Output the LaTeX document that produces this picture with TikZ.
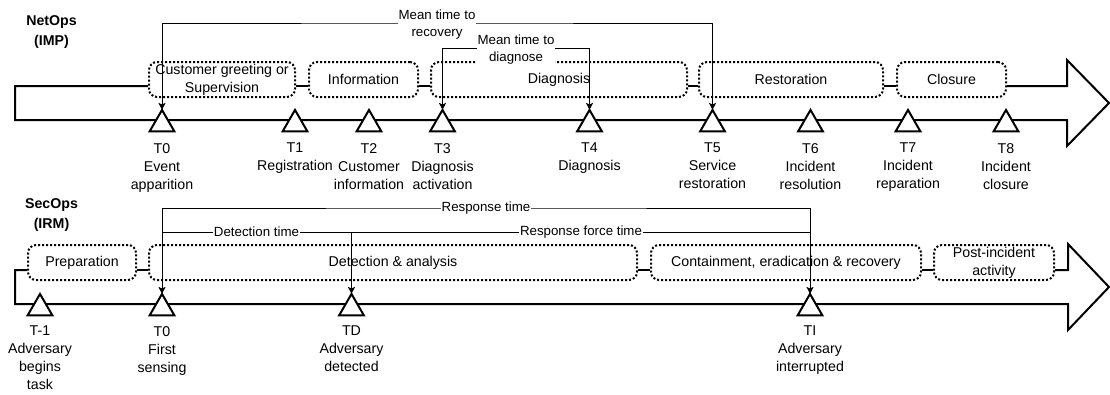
\documentclass[tikz,border=0pt]{standalone}
\usepackage{fontspec}
\setmainfont{Liberation Sans}
\usetikzlibrary{shapes.geometric,arrows.meta}
\newcommand\fsA{\fontsize{14.2}{18}\selectfont}
\newcommand\fsB{\fontsize{14.2}{19.5}\selectfont}
\newcommand\fsC{\fontsize{13.3}{17.5}\selectfont}
\begin{document}
\begin{tikzpicture}[x=1pt,y=-1pt,
  phase/.style={draw, line width=2pt, dash pattern=on 2pt off 2pt, rounded corners=8pt,
    fill=white, minimum height=35pt, inner sep=0pt, align=center, font=\fsA},
  outline/.style={draw, line width=2pt, line join=miter},
  marker/.style={regular polygon, regular polygon sides=3, draw, line width=2pt, fill=white,
    minimum size=28.5pt, inner sep=0pt, outer sep=0pt},
  tlabel/.style={align=center, inner sep=0pt, anchor=north, font=\fsA},
  title/.style={align=center, inner sep=0pt, anchor=north, font=\fsB\bfseries},
  meas/.style={draw, line width=1pt},
  tip/.style={-{Stealth[length=7pt,width=7pt,inset=1.5pt]}},
  tips/.style={{Stealth[length=7pt,width=7pt,inset=1.5pt]}-{Stealth[length=7pt,width=7pt,inset=1.5pt]}},
  lbl/.style={fill=white, inner sep=1pt, align=center, font=\fsC}]
\useasboundingbox (0,0) rectangle (1110,394);

% titles
\node[title] (net) at (51.5,15.8) {NetOps\\(IMP)};
\node[title] (sec) at (51.5,198.8) {SecOps\\(IRM)};

% ---------- top row phases
\node[phase, minimum width=146pt] (cg) at (222,79.5) {Customer greeting or\\Supervision};
\node[phase, minimum width=109pt] (inf) at (363.5,79.5) {Information};
\node[phase, minimum width=256pt] (dia) at (559,79.5) {Diagnosis};
\node[phase, minimum width=184pt] (res) at (791,79.5) {Restoration};
\node[phase, minimum width=109pt] (clo) at (951.5,79.5) {Closure};

\coordinate (yt) at (0,86);
\draw[outline] (cg.west |- yt) -- (15,86) -- (15,120) -- (1067,120) -- (1067,146)
  -- (1109,103) -- (1067,60) -- (1067,86) -- (clo.east |- yt);
\draw[outline] (cg.east |- yt) -- (inf.west |- yt);
\draw[outline] (inf.east |- yt) -- (dia.west |- yt);
\draw[outline] (dia.east |- yt) -- (res.west |- yt);
\draw[outline] (res.east |- yt) -- (clo.west |- yt);

% top markers
\node[marker] (t0) at (162,124.2) {};
\node[marker] (t1) at (295,124.2) {};
\node[marker] (t2) at (369,124.2) {};
\node[marker] (t3) at (442.5,124.2) {};
\node[marker] (t4) at (589.5,124.2) {};
\node[marker] (t5) at (712.5,124.2) {};
\node[marker] (t6) at (810.5,124.2) {};
\node[marker] (t7) at (908,124.2) {};
\node[marker] (t8) at (1006,124.2) {};

\node[tlabel] (l0) at (162,142.9) {T0\\Event\\apparition};
\node[tlabel] (l1) at (295,142.9) {T1\\Registration};
\node[tlabel] (l2) at (369,142.9) {T2\\Customer\\information};
\node[tlabel] (l3) at (442.5,142.9) {T3\\Diagnosis\\activation};
\node[tlabel] (l4) at (589.5,142.9) {T4\\Diagnosis};
\node[tlabel] (l5) at (712.5,142.9) {T5\\Service\\restoration};
\node[tlabel] (l6) at (810.5,142.9) {T6\\Incident\\resolution};
\node[tlabel] (l7) at (908,142.9) {T7\\Incident\\reparation};
\node[tlabel] (l8) at (1006,142.9) {T8\\Incident\\closure};

% top measurements
\coordinate (mttr) at (437,23);
\coordinate (mttd) at (516,48);
\draw[meas, tips] (t0.corner 1) |- (mttr) -| (t5.corner 1);
\draw[meas, tips] (t3.corner 1) |- (mttd) -| (t4.corner 1);
\node[lbl] (lr) at (437,24.5) {Mean time to\\recovery};
\node[lbl] (ld) at (516,49.5) {Mean time to\\diagnose};

% ---------- bottom row phases
\node[phase, minimum width=108pt] (pre) at (82,262.5) {Preparation};
\node[phase, minimum width=488pt] (det) at (393,262.5) {Detection \& analysis};
\node[phase, minimum width=270pt] (con) at (786,262.5) {Containment, eradication \& recovery};
\node[phase, minimum width=120pt] (pos) at (994,262.5) {Post-incident\\activity};

\coordinate (yb) at (0,270);
\draw[outline] (pre.west |- yb) -- (15,270) -- (15,304) -- (1068,304) -- (1068,330)
  -- (1109,287) -- (1068,244) -- (1068,270) -- (pos.east |- yb);
\draw[outline] (pre.east |- yb) -- (det.west |- yb);
\draw[outline] (det.east |- yb) -- (con.west |- yb);
\draw[outline] (con.east |- yb) -- (pos.west |- yb);

% bottom markers
\node[marker] (bm) at (40,308.2) {};
\node[marker] (b0) at (162,308.2) {};
\node[marker] (bd) at (351.5,308.2) {};
\node[marker] (bi) at (810,308.2) {};

\node[tlabel] (lm) at (40,325.9) {T-1\\Adversary\\begins\\task};
\node[tlabel] (lb0) at (162,325.9) {T0\\First\\sensing};
\node[tlabel] (lbd) at (351.5,325.9) {TD\\Adversary\\detected};
\node[tlabel] (lbi) at (810,325.9) {TI\\Adversary\\interrupted};

% bottom measurements
\coordinate (rt) at (486,208);
\coordinate (dt) at (256.5,232);
\coordinate (rf) at (581,232);
\draw[meas, tips] (b0.corner 1) |- (rt) -| (bi.corner 1);
\draw[meas, tip] (b0.corner 1 |- dt) -| (bd.corner 1);
\draw[meas] (bd.corner 1 |- rf) -- (bi.corner 1 |- rf);
\node[lbl] (lrt) at (486,208) {Response time};
\node[lbl] (ldt) at (256.5,232) {Detection time};
\node[lbl] (lrf) at (581,232) {Response force time};
\end{tikzpicture}
\end{document}
